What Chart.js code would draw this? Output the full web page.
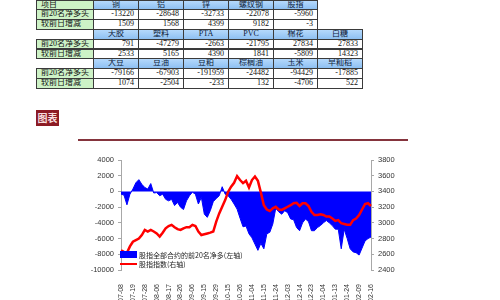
<!DOCTYPE html>
<html>
<head>
<meta charset="utf-8">
<script src="https://cdn.jsdelivr.net/npm/chart.js@4.4.0/dist/chart.umd.min.js"></script>
<style>
html, body { margin: 0; padding: 0; background: #fff; width: 500px; height: 300px; overflow: hidden; position: relative; }
.c { position: absolute; box-sizing: border-box; border: 1px solid #3a3a3a; font: 8px "Liberation Serif", "Noto Sans CJK SC", serif; color: #111; white-space: nowrap; overflow: hidden; }
.hd { background: linear-gradient(#b5d9fc, #8ec0f2); text-align: center; color: #0d1b3a; }
.lb { background: #cdf2c6; padding-left: 4px; }
.nm { background: #fff; text-align: right; padding-right: 4px; }
#tag { position: absolute; left: 36px; top: 110px; width: 23px; height: 16px; background: #8c1b24; color: #f6dede; font: bold 10px "Noto Sans CJK SC"; line-height: 16px; text-align: center; }
#rule { position: absolute; left: 78px; top: 139px; width: 330px; height: 2px; background: #85343d; }
#wrap { position: absolute; left: 60px; top: 150px; width: 360px; height: 150px; }
</style>
</head>
<body>
<div id="tag">图表</div>
<div id="rule"></div>
<div id="wrap"><canvas id="myChart" width="360" height="150"></canvas></div>

<script>
// table
const rowNames = ['前20名净多头', '较前日增减'];
const block1Names = ['铜', '铝', '锌', '螺纹钢', '股指'];
const block1Net = ['-13220', '-28648', '-32733', '-22078', '-5960'];
const block1Chg = ['1509', '1568', '4399', '9182', '-3'];
const block2Names = ['天胶', '塑料', 'PTA', 'PVC', '棉花', '白糖'];
const block2Net = ['791', '-47279', '-2663', '-21795', '27834', '27833'];
const block2Chg = ['2533', '5165', '4390', '1841', '-5809', '14323'];
const block3Names = ['大豆', '豆油', '豆粕', '棕榈油', '玉米', '早籼稻'];
const block3Net = ['-79166', '-67903', '-191959', '-24482', '-94429', '-17885'];
const block3Chg = ['1074', '-2504', '-233', '132', '-4706', '522'];

// chart
const tickLabels = ['07-08', '07-19', '07-28', '08-06', '08-17', '08-26', '09-06', '09-15', '09-29', '10-15', '10-26',
  '11-04', '11-15', '11-24', '12-03', '12-14', '12-23', '01-04', '01-13', '01-24', '02-09', '02-16'];
const netLong = [
  -340, -470, -1700, -350, 300, 1100, 1500, 900, 500, 300,
  1000, -200, -150, -550, -350, -1000, -1200, -1000, -1800, -1400,
  -2000, -2300, -1200, -550, -100, -350, -1600, -750, -2900, -3300,
  -2450, -1300, -900, -550, 600, -350, -550, -1000, -1600, -2250,
  -3400, -4500, -4400, -5400, -5900, -6700, -7500, -6600, -7300, -5400,
  -5200, -4150, -2150, -2600, -2900, -2450, -2700, -3500, -3600, -4600,
  -5000, -4000, -3500, -3850, -5000, -5000, -4600, -4350, -4000, -3700,
  -4000, -4350, -4800, -4800, -7300, -4800, -6000, -7300, -7700, -7800,
  -8100, -7200, -6300, -6000, -5800
];
const indexClose = [
  2650, 2630, 2620, 2700, 2760, 2780, 2800, 2845, 2910, 2890,
  2910, 2890, 2865, 2825, 2875, 2930, 2960, 2975, 2945, 2920,
  2910, 2930, 2945, 2945, 2975, 2960, 2890, 2845, 2855, 2865,
  2875, 2890, 3015, 3120, 3205, 3290, 3395, 3460, 3510, 3595,
  3545, 3505, 3535, 3450, 3545, 3590, 3535, 3385, 3225, 3170,
  3150, 3185, 3205, 3170, 3165, 3185, 3205, 3225, 3250, 3255,
  3215, 3250, 3250, 3215, 3140, 3100, 3100, 3110, 3100, 3080,
  3080, 3055, 3025, 3035, 2995, 2985, 2975, 2975, 3035, 3055,
  3100, 3170, 3240, 3250, 3215
];

const colX = [36, 93, 138, 183, 228, 273, 317, 362];
const rowH = 9.8, top0 = -0.5;

function cell(col, row, text, cls){
  const d = document.createElement('div');
  d.className = 'c ' + cls;
  d.style.left = colX[col] + 'px';
  d.style.top = (top0 + row * rowH) + 'px';
  d.style.width = (colX[col + 1] - colX[col] + 1) + 'px';
  d.style.height = (rowH + 1) + 'px';
  d.style.lineHeight = (rowH - 1) + 'px';
  d.textContent = text;
  document.body.appendChild(d);
}

function block(row, names, net, chg, first){
  if(first) cell(0, row, '项目', 'lb');
  names.forEach((n, k) => cell(k + 1, row, n, 'hd'));
  cell(0, row + 1, rowNames[0], 'lb');
  cell(0, row + 2, rowNames[1], 'lb');
  net.forEach((v, k) => cell(k + 1, row + 1, v, 'nm'));
  chg.forEach((v, k) => cell(k + 1, row + 2, v, 'nm'));
}
block(0, block1Names, block1Net, block1Chg, true);
block(3, block2Names, block2Net, block2Chg, false);
block(6, block3Names, block3Net, block3Chg, false);

const labels = [];
tickLabels.forEach((t, k) => {
  labels.push(t);
  if(k < tickLabels.length - 1) labels.push('', '', '');
});

const axisFont = {family: '"Liberation Sans", Arial, sans-serif', size: 7.5};

const legendBox = {
  id: 'legendBox',
  afterDatasetsDraw(chart){
    const {ctx, chartArea} = chart;
    const ds = chart.data.datasets;
    const x = chartArea.left - 1, b = chartArea.bottom;
    ctx.save();
    ctx.font = '7px "Noto Sans CJK SC"';
    ctx.textBaseline = 'middle';
    ctx.fillStyle = ds[0].backgroundColor;
    ctx.fillRect(x, b - 19, 17, 7);
    ctx.strokeStyle = ds[1].borderColor;
    ctx.lineWidth = 2;
    ctx.beginPath();
    ctx.moveTo(x, b - 6);
    ctx.lineTo(x + 17, b - 6);
    ctx.stroke();
    ctx.fillStyle = '#222';
    ctx.fillText(ds[0].label, x + 19, b - 15);
    ctx.fillText(ds[1].label, x + 19, b - 6);
    ctx.restore();
  }
};

const ctx = document.getElementById('myChart').getContext('2d');
const myChart = new Chart(ctx, {
  type: 'line',
  data: {
    labels: labels,
    datasets: [{
      label: '股指全部合约的前20名净多(左轴)',
      data: netLong,
      yAxisID: 'y',
      fill: 'origin',
      backgroundColor: '#0000ff',
      borderColor: '#0000ff',
      borderWidth: 1,
      order: 2
    }, {
      label: '股指指数(右轴)',
      data: indexClose,
      yAxisID: 'y1',
      fill: false,
      borderColor: '#ff0000',
      borderWidth: 2.5,
      order: 1
    }]
  },
  options: {
    responsive: false,
    animation: false,
    layout: {padding: {top: 10, left: 0, right: 0, bottom: 0}},
    elements: {point: {radius: 0}, line: {tension: 0}},
    plugins: {legend: {display: false}, tooltip: {enabled: false}},
    scales: {
      x: {
        grid: {display: false},
        border: {display: false},
        ticks: {autoSkip: false, minRotation: 90, maxRotation: 90, padding: 6, color: '#333', font: {family: axisFont.family, size: 7}},
        afterFit(s){ s.height = 30; }
      },
      y: {
        position: 'left',
        min: -10000, max: 4000,
        ticks: {stepSize: 2000, padding: 4, color: '#333', font: axisFont, callback: v => String(v)},
        grid: {drawOnChartArea: false, tickLength: 3, color: '#a8a8a8'},
        border: {color: '#a8a8a8'},
        afterFit(s){ s.width = 61; }
      },
      y1: {
        position: 'right',
        min: 2400, max: 3800,
        ticks: {stepSize: 200, padding: 4, color: '#333', font: axisFont, callback: v => String(v)},
        grid: {drawOnChartArea: false, tickLength: 3, color: '#a8a8a8'},
        border: {color: '#a8a8a8'},
        afterFit(s){ s.width = 49; }
      }
    }
  },
  plugins: [legendBox]
});
</script>
</body>
</html>
